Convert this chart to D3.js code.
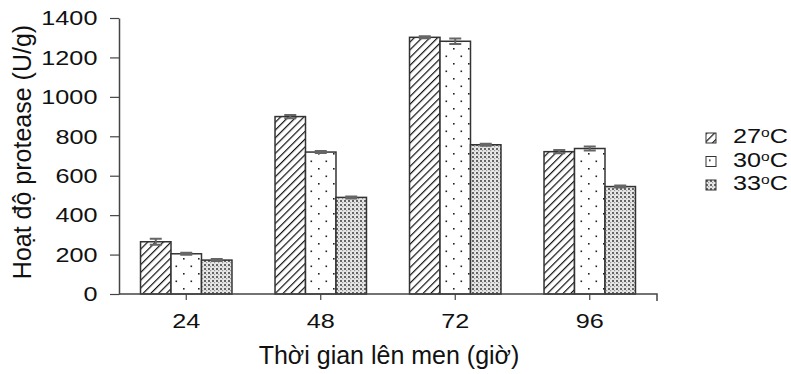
<!DOCTYPE html>
<html>
<head>
<meta charset="utf-8">
<script src="https://cdn.jsdelivr.net/npm/d3@7"></script>
<style>
  body { margin: 0; background: #fff; }
  text { font-family: "Liberation Sans", Arial, sans-serif; fill: #111; }
</style>
</head>
<body>
<svg id="chart"></svg>
<script>
// data
const times = ["24", "48", "72", "96"];
const temps = ["27", "30", "33"];
const activity27 = [265, 900, 1302, 722];
const activity30 = [204, 720, 1282, 738];
const activity33 = [172, 490, 757, 545];
const error27 = [15, 8, 5, 8];
const error30 = [5, 5, 14, 10];
const error33 = [5, 5, 5, 5];
const yTicks = [0, 200, 400, 600, 800, 1000, 1200, 1400];

const width = 791, height = 374;
const margin = { left: 119, right: 134, top: 18, bottom: 80 };
const stretch = "scale(1.2,1)"; // the labels in the picture are drawn wide

const svg = d3.select("#chart").attr("width", width).attr("height", height);

// patterns
const defs = svg.append("defs");
const hatch = defs.append("pattern").attr("id", "p27")
  .attr("patternUnits", "userSpaceOnUse").attr("width", 5.5).attr("height", 5.5)
  .attr("patternTransform", "rotate(45)");
hatch.append("rect").attr("width", 5.5).attr("height", 5.5).attr("fill", "#fff");
hatch.append("line").attr("x1", 0).attr("y1", 0).attr("x2", 0).attr("y2", 5.5)
  .attr("stroke", "#111").attr("stroke-width", 2.4);

const dots = defs.append("pattern").attr("id", "p30")
  .attr("patternUnits", "userSpaceOnUse").attr("width", 15).attr("height", 15);
dots.append("rect").attr("width", 15).attr("height", 15).attr("fill", "#fff");
dots.append("rect").attr("x", 3).attr("y", 3).attr("width", 1.6).attr("height", 1.6).attr("fill", "#222");
dots.append("rect").attr("x", 10.5).attr("y", 10.5).attr("width", 1.6).attr("height", 1.6).attr("fill", "#222");

const dense = defs.append("pattern").attr("id", "p33")
  .attr("patternUnits", "userSpaceOnUse").attr("width", 4).attr("height", 4);
dense.append("rect").attr("width", 4).attr("height", 4).attr("fill", "#e6e6e6");
dense.append("rect").attr("x", 0).attr("y", 0).attr("width", 2).attr("height", 2).attr("fill", "#666");
dense.append("rect").attr("x", 2).attr("y", 2).attr("width", 1.2).attr("height", 1.2).attr("fill", "#999");

const x = d3.scaleBand().domain(times)
  .range([margin.left, width - margin.right]).paddingInner(0.32).paddingOuter(0.16);
const xs = d3.scaleBand().domain(temps).range([0, x.bandwidth()]);
const y = d3.scaleLinear().domain([0, 1400]).range([height - margin.bottom, margin.top]);

const series = [
  { t: "27", vals: activity27, err: error27 },
  { t: "30", vals: activity30, err: error30 },
  { t: "33", vals: activity33, err: error33 }
];

const groups = svg.append("g").selectAll("g").data(series).join("g");

groups.selectAll("rect")
  .data(s => s.vals.map((v, i) => ({ t: s.t, time: times[i], v: v, e: s.err[i] })))
  .join("rect")
  .attr("x", d => x(d.time) + xs(d.t))
  .attr("y", d => y(d.v))
  .attr("width", xs.bandwidth())
  .attr("height", d => y(0) - y(d.v))
  .attr("fill", d => "url(#p" + d.t + ")")
  .attr("stroke", "#333")
  .attr("stroke-width", 1.5);

// error bars
groups.selectAll("path.err")
  .data(s => s.vals.map((v, i) => ({ t: s.t, time: times[i], v: v, e: s.err[i] })))
  .join("path")
  .attr("class", "err")
  .attr("d", d => {
    const cx = x(d.time) + xs(d.t) + xs.bandwidth() / 2;
    const y1 = y(d.v + d.e), y0 = y(d.v - d.e);
    return `M${cx - 6},${y1}H${cx + 6}M${cx},${y1}V${y0}M${cx - 6},${y0}H${cx + 6}`;
  })
  .attr("fill", "none")
  .attr("stroke", "#666")
  .attr("stroke-width", 2);

// y axis
const yAxis = svg.append("g")
  .attr("transform", `translate(${margin.left},0)`)
  .call(d3.axisLeft(y).tickValues(yTicks).tickFormat(d3.format("d"))
    .tickSize(9).tickPadding(9).tickSizeOuter(0));
yAxis.select(".domain").attr("stroke", "#444").attr("stroke-width", 1.5);
yAxis.selectAll(".tick line").attr("stroke", "#444").attr("stroke-width", 1.2);
yAxis.selectAll(".tick text").attr("font-size", 21).attr("fill", "#111")
  .attr("transform", stretch);

// x axis
const xAxis = svg.append("g")
  .attr("transform", `translate(0,${y(0)})`)
  .call(d3.axisBottom(x).tickSize(6).tickPadding(13).tickSizeOuter(6));
xAxis.select(".domain").attr("stroke", "#444").attr("stroke-width", 1.5)
  .attr("d", `M${margin.left},0H${width - margin.right}V7`);
xAxis.selectAll(".tick line").attr("stroke", "#444").attr("stroke-width", 1.2);
xAxis.selectAll(".tick text").attr("font-size", 21).attr("fill", "#111")
  .attr("transform", stretch);

// axis titles
svg.append("text")
  .attr("x", (margin.left + width - margin.right) / 2 + 1)
  .attr("y", 364)
  .attr("text-anchor", "middle")
  .attr("font-size", 25)
  .text("Thời gian lên men (giờ)");

svg.append("text")
  .attr("transform", `translate(31,152) rotate(-90)`)
  .attr("text-anchor", "middle")
  .attr("font-size", 25)
  .text("Hoạt độ protease (U/g)");

// legend
const legend = svg.append("g").attr("transform", "translate(706,133)");
const li = legend.selectAll("g").data(temps).join("g")
  .attr("transform", (d, i) => `translate(0,${i * 23.5})`);
li.append("rect")
  .attr("width", 10).attr("height", 10)
  .attr("fill", d => "url(#p" + d + ")")
  .attr("stroke", "#333").attr("stroke-width", 1);
const lt = li.append("g").attr("transform", "translate(27,10)")
  .append("text").attr("font-size", 21).attr("transform", stretch);
lt.append("tspan").text(d => d);
lt.append("tspan").attr("font-size", 13).attr("dy", -6).text("o");
lt.append("tspan").attr("dy", 6).text("C");
</script>
</body>
</html>
